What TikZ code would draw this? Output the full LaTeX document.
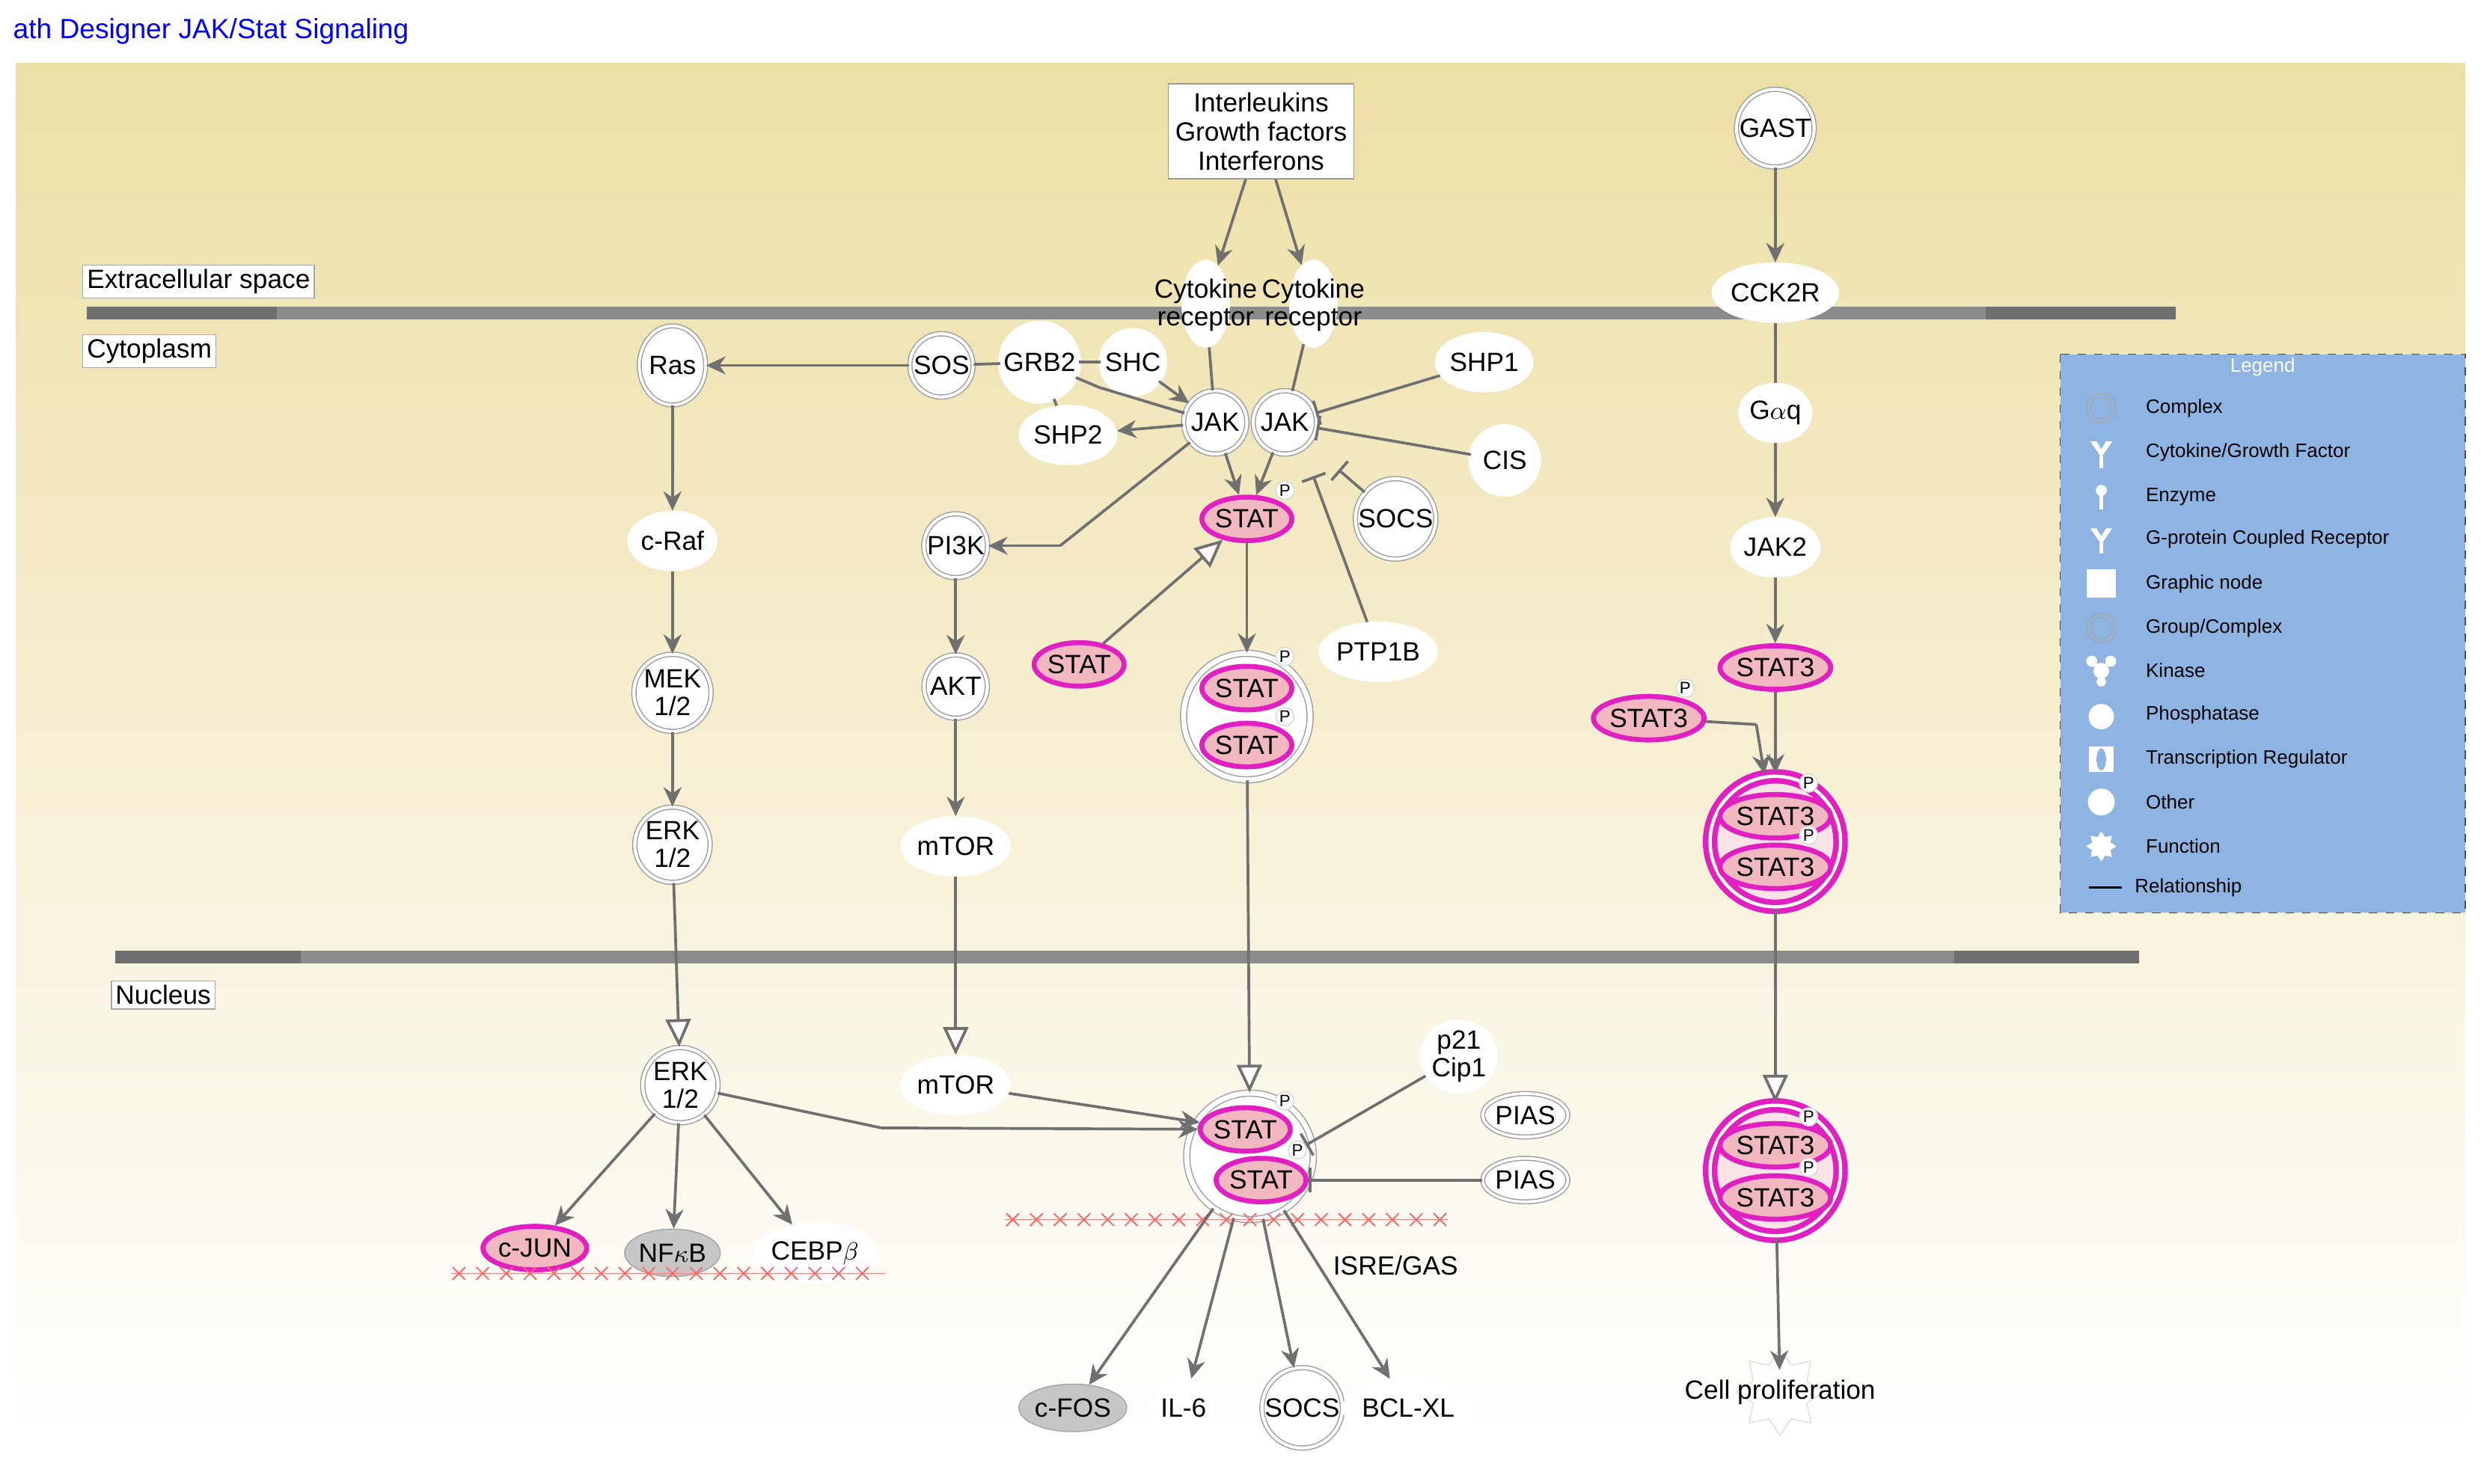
\documentclass[tikz,border=0pt]{standalone}
\usepackage{fontspec}
\setmainfont{Liberation Sans}
\usetikzlibrary{arrows.meta,shapes.geometric}

\definecolor{edgegray}{HTML}{707070}
\definecolor{magen}{HTML}{E020C0}
\definecolor{pinkfill}{HTML}{F2B8C0}
\definecolor{membr}{HTML}{6E6E6E}
\definecolor{bgtan}{HTML}{EDDFA5}
\definecolor{legblue}{HTML}{8DB4E2}

\tikzset{
  mol/.style={circle, draw=gray!75, double=white, double distance=1.1pt, fill=white,
    minimum size=0.8cm, inner sep=0.5pt, align=center, font=\fontsize{9.5}{10}\selectfont},
  prot/.style={ellipse, draw=white, fill=white, minimum width=0.8cm, minimum height=0.75cm,
    inner sep=0pt, align=center, font=\fontsize{9.5}{10}\selectfont},
  dark/.style={ellipse, draw=gray!70, fill=gray!45, minimum width=1.1cm, minimum height=0.6cm,
    inner sep=0pt, font=\fontsize{9.5}{10}\selectfont},
  stat/.style={ellipse, draw=magen, line width=1.8pt, fill=pinkfill, minimum width=1.05cm,
    minimum height=0.55cm, inner sep=0pt, font=\fontsize{9.5}{10}\selectfont},
  cpx/.style={circle, draw=gray!75, double=white, double distance=1.8pt, fill=white, minimum size=1.6cm},
  cpxm/.style={circle, draw=magen, line width=2pt, double=white, double distance=1.2pt,
    fill=pinkfill!40, minimum size=1.65cm},
  lbl/.style={draw=gray!70, fill=white, inner sep=1.5pt, font=\fontsize{9.5}{10}\selectfont},
  plab/.style={circle, draw=gray!30, fill=white, inner sep=0.3pt, font=\fontsize{6}{6}\selectfont},
  ln/.style={draw=edgegray, line width=1pt},
  arr/.style={ln, -{Stealth[length=7pt,width=6.5pt]}},
  oarr/.style={ln, -{Triangle[open,length=10pt,width=9pt,fill=white]}},
  inh/.style={ln, -{Bar[width=9pt]}},
  legtxt/.style={anchor=west, font=\fontsize{7}{7}\selectfont},
}

\begin{document}
\begin{tikzpicture}[x=0.02cm, y=-0.02cm]
\useasboundingbox (0,0) rectangle (1568,938);
\fill[white] (0,0) rectangle (1568,938);

% background and title
\shade[top color=bgtan, bottom color=white, middle color=bgtan!50] (10,40) rectangle (1558,910);
\node[anchor=west, text=blue, font=\fontsize{10}{11}\selectfont, inner sep=0pt] (title) at (8,20) {ath Designer JAK/Stat Signaling};

% membranes
\draw[membr, line width=4.5pt] (55,198) -- (1375,198);
\draw[membr!80, line width=4.5pt] (175,198) -- (1255,198);
\draw[membr, line width=4.5pt] (73,605) -- (1352,605);
\draw[membr!80, line width=4.5pt] (190,605) -- (1235,605);
\node[lbl, anchor=west] (lec) at (52,178) {Extracellular space};
\node[lbl, anchor=west] (lcy) at (52,222) {Cytoplasm};
\node[lbl, anchor=west] (lnu) at (70,629) {Nucleus};

% extracellular
\node[draw=gray!80, fill=white, align=center, minimum width=2.35cm, minimum height=1.2cm,
  inner sep=1pt, font=\fontsize{9.5}{10.5}\selectfont] (ilk) at (797,83) {Interleukins\\Growth factors\\Interferons};
\node[mol] (gast) at (1122,81) {GAST};
\node[prot, minimum width=0.6cm, minimum height=1.1cm] (rec1) at (762,192) {};
\node[prot, minimum width=0.6cm, minimum height=1.1cm] (rec2) at (830,192) {};
\node[font=\fontsize{9.5}{10}\selectfont, align=center] (rtx1) at (762,193) {Cytokine\\receptor};
\node[font=\fontsize{9.5}{10}\selectfont, align=center] (rtx2) at (830,193) {Cytokine\\receptor};
\node[prot, minimum width=0.7cm] (cck) at (1122,185) {CCK2R};

% cytoplasm
\node[ellipse, draw=gray!75, double=white, double distance=1pt, fill=white, minimum width=0.6cm,
  minimum height=1cm, inner sep=0pt, font=\fontsize{9.5}{10}\selectfont] (ras) at (425,231) {Ras};
\node[mol] (sos) at (595,231) {SOS};
\node[mol, draw=white, double=white] (grb2) at (657,229) {GRB2};
\node[mol, draw=white, double=white] (shc) at (716,229) {SHC};
\node[prot] (shp2) at (675,275) {SHP2};
\node[mol] (jak1) at (768,267) {JAK};
\node[mol] (jak2) at (812,267) {JAK};
\node[prot] (shp1) at (938,229) {SHP1};
\node[mol, draw=white, double=white, minimum size=0.85cm] (cis) at (951,291) {CIS};
\node[mol] (socs) at (882,328) {SOCS};
\node[stat] (stat1) at (788,328) {STAT};
\node[plab] (p1) at (812,310) {P};
\node[prot] (ptp) at (871,412) {PTP1B};
\node[stat] (statl) at (682,420) {STAT};
\node[cpx] (cpx1) at (788,453) {};
\node[stat] (s1a) at (788,435) {STAT};
\node[stat] (s1b) at (788,471) {STAT};
\node[plab] (p2) at (812,415) {P};
\node[plab] (p3) at (812,453) {P};

\node[prot] (craf) at (425,342) {c-Raf};
\node[mol] (mek) at (425,438) {MEK\\1/2};
\node[mol] (erk) at (425,534) {ERK\\1/2};
\node[mol] (pi3k) at (604,345) {PI3K};
\node[mol] (akt) at (604,434) {AKT};
\node[prot] (mtor) at (604,535) {mTOR};

\node[prot, minimum width=0.6cm] (gaq) at (1122,261) {G$\alpha$q};
\node[prot] (jak2b) at (1122,346) {JAK2};
\node[stat] (s3a) at (1122,422) {STAT3};
\node[stat] (s3b) at (1042,454) {STAT3};
\node[plab] (p4) at (1065,435) {P};
\node[cpxm] (cpx3) at (1122,532) {};
\node[stat] (s3c) at (1122,516) {STAT3};
\node[stat] (s3d) at (1122,548) {STAT3};
\node[plab] (p5) at (1143,495) {P};
\node[plab] (p6) at (1143,528) {P};

% nucleus
\node[mol] (erkn) at (430,686) {ERK\\1/2};
\node[prot] (mtorn) at (604,686) {mTOR};
\node[cpx] (cpxn) at (790,731) {};
\node[stat] (sn1) at (787,714) {STAT};
\node[stat] (sn2) at (797,746) {STAT};
\node[plab] (p7) at (812,696) {P};
\node[plab] (p8) at (820,727) {P};
\node[prot] (p21) at (922,668) {p21\\Cip1};
\node[ellipse, draw=gray!75, double=white, double distance=1pt, fill=white, minimum width=1.05cm,
  minimum height=0.55cm, inner sep=0pt, font=\fontsize{9.5}{10}\selectfont] (pias1) at (964,705) {PIAS};
\node[ellipse, draw=gray!75, double=white, double distance=1pt, fill=white, minimum width=1.05cm,
  minimum height=0.55cm, inner sep=0pt, font=\fontsize{9.5}{10}\selectfont] (pias2) at (964,746) {PIAS};
\node[cpxm] (cpx3n) at (1122,740) {};
\node[stat] (s3e) at (1122,724) {STAT3};
\node[stat] (s3f) at (1122,757) {STAT3};
\node[plab] (p9) at (1143,706) {P};
\node[plab] (p10) at (1143,738) {P};

\node[stat] (cjun) at (338,789) {c-JUN};
\node[dark] (nfkb) at (425,792) {NF$\kappa$B};
\node[prot, minimum width=1.1cm] (cebp) at (515,792) {CEBP$\beta$};
\node[font=\fontsize{9.5}{10}\selectfont] (isre) at (882,800) {ISRE/GAS};
\node[dark] (cfos) at (678,890) {c-FOS};
\node[prot] (il6) at (748,890) {IL-6};
\node[mol] (socsn) at (823,890) {SOCS};
\node[prot, minimum width=1.1cm] (bcl) at (890,890) {BCL-XL};
\node[star, star points=8, draw=gray!25, fill=white, minimum size=1.1cm] (gear) at (1125,880) {};
\node[font=\fontsize{9.5}{10}\selectfont] (prolif) at (1125,880) {Cell proliferation};

% DNA marks
\draw[red!50, line width=0.4pt] (285,805) -- (560,805);
\foreach \i in {290,305,...,555}
  \draw[red!60, line width=0.5pt] (\i-4,801) -- (\i+4,809) (\i-4,809) -- (\i+4,801);
\draw[red!50, line width=0.4pt] (635,771) -- (915,771);
\foreach \i in {640,655,...,910}
  \draw[red!60, line width=0.5pt] (\i-4,767) -- (\i+4,775) (\i-4,775) -- (\i+4,767);

% coordinates for bends
\coordinate (c1) at (670,345);
\coordinate (c2) at (557,713);
\coordinate (c3) at (1110,458);
\coordinate (c4) at (695,245);
\coordinate (c5) at (846,297);
\coordinate (c6) at (830,301);

% connectors
\draw[arr] (ilk) -- (rec1);
\draw[arr] (ilk) -- (rec2);
\draw[ln] (rec1) -- (jak1);
\draw[ln] (rec2) -- (jak2);
\draw[arr] (sos) -- (ras);
\draw[ln] (grb2) -- (sos);
\draw[ln] (grb2) -- (shc);
\draw[ln] (grb2) -- (c4) -- (jak1);
\draw[ln] (grb2) -- (shp2);
\draw[arr] (shc) -- (jak1);
\draw[arr] (jak1) -- (shp2);
\draw[inh] (shp1) -- (jak2);
\draw[inh] (cis) -- (jak2);
\draw[inh] (socs) -- (c5);
\draw[inh] (ptp) -- (c6);
\draw[arr] (jak1) -- (stat1);
\draw[arr] (jak2) -- (stat1);
\draw[ln] (jak1) -- (c1);
\draw[arr] (c1) -- (pi3k);
\draw[oarr] (statl) -- (stat1);
\draw[arr] (stat1) -- (cpx1);
\draw[arr] (ras) -- (craf);
\draw[arr] (craf) -- (mek);
\draw[arr] (mek) -- (erk);
\draw[oarr] (erk) -- (erkn);
\draw[arr] (pi3k) -- (akt);
\draw[arr] (akt) -- (mtor);
\draw[oarr] (mtor) -- (mtorn);
\draw[oarr] (cpx1) -- (cpxn);
\draw[arr] (gast) -- (cck);
\draw[ln] (cck) -- (gaq);
\draw[arr] (gaq) -- (jak2b);
\draw[arr] (jak2b) -- (s3a);
\draw[arr] (s3a) -- (cpx3);
\draw[ln] (s3b) -- (c3);
\draw[arr] (c3) -- (cpx3);
\draw[oarr] (cpx3) -- (cpx3n);
\draw[arr] (cpx3n) -- (prolif);
\draw[arr] (erkn) -- (cjun);
\draw[arr] (erkn) -- (nfkb);
\draw[arr] (erkn) -- (cebp);
\draw[ln] (erkn) -- (c2);
\draw[arr] (c2) -- (sn1);
\draw[arr] (mtorn) -- (sn1);
\draw[inh] (p21) -- (p8);
\draw[inh] (pias2) -- (sn2);
\draw[arr] (cpxn) -- (cfos);
\draw[arr] (cpxn) -- (il6);
\draw[arr] (cpxn) -- (socsn);
\draw[arr] (cpxn) -- (bcl);

% legend
\draw[fill=legblue, draw=gray!60!black, dashed] (1302,224) rectangle (1558,577);
\node[text=white, font=\fontsize{7}{7}\selectfont] (legt) at (1430,232) {Legend};
\foreach \y/\t in {258/Complex, 286/Cytokine\slash Growth Factor, 314/Enzyme,
  341/G-protein Coupled Receptor, 369/Graphic node, 397/Group\slash Complex, 424/Kinase,
  452/Phosphatase, 480/Transcription Regulator, 507/Other, 535/Function}
  \node[legtxt] at (1350,\y) {\t};
\node[legtxt] (legr) at (1343,561) {Relationship};
\draw[gray!70, double=legblue, double distance=1pt] (1328,258) circle (8);
\fill[white] (1321,279) -- (1328,289) -- (1335,279) -- (1331,279) -- (1328,284) -- (1325,279) -- cycle;
\draw[white, line width=1.5pt] (1328,288) -- (1328,296);
\fill[white] (1328,310) circle (3.5);
\draw[white, line width=1.2pt] (1328,313) -- (1328,322);
\fill[white] (1321,334) -- (1328,344) -- (1335,334) -- (1331,334) -- (1328,339) -- (1325,334) -- cycle;
\draw[white, line width=1.5pt] (1328,343) -- (1328,350);
\fill[white] (1319,360) rectangle (1337,378);
\draw[gray!70, double=legblue, double distance=1pt] (1328,397) circle (8);
\fill[white] (1328,424) circle (5) (1322,418) circle (3.5) (1334,418) circle (3.5) (1328,431) circle (3);
\fill[white] (1328,453) circle (8);
\fill[white] (1320,472) rectangle (1336,488);
\fill[legblue] (1328,480) ellipse (3 and 7);
\fill[white] (1328,507) circle (8.5);
\node[star, star points=8, fill=white, minimum size=0.38cm, inner sep=0pt] (legf) at (1328,535) {};
\draw[black, line width=1pt] (1320,561) -- (1341,561);
\end{tikzpicture}
\end{document}
